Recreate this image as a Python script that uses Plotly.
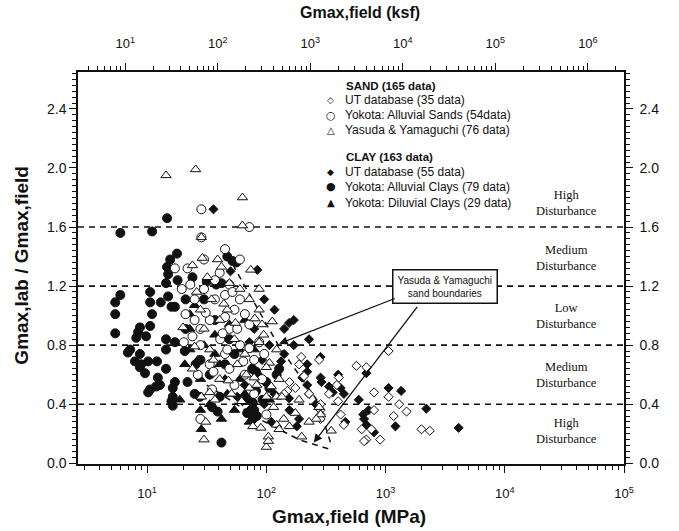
import math
import plotly.graph_objects as go

# ---- Sand specimens: Gmax,field (MPa) and Gmax,lab / Gmax,field ----
ut_sand_g = [196, 207, 156, 175, 150, 1060, 570, 690, 390, 800, 1060, 400, 285, 285, 285,
             285, 420, 1170, 630, 760, 690, 660, 2350, 141, 188, 335, 447, 800, 406, 228,
             277, 900, 1300, 1500, 2000]
ut_sand_r = [0.72, 0.59, 0.55, 0.51, 0.49, 0.76, 0.66, 0.65, 0.53, 0.48, 0.45, 0.42, 0.40, 0.36, 0.33,
             0.30, 0.33, 0.32, 0.23, 0.23, 0.16, 0.15, 0.22, 0.47, 0.67, 0.47, 0.26, 0.36, 0.58, 0.47,
             0.70, 0.16, 0.40, 0.35, 0.23]

yokota_sand_g = [28.5, 28.5, 72, 17.1, 21.8, 20.3, 28, 26.6, 28, 40.6, 100, 72, 87, 30, 37,
                 45, 54, 33.5, 49, 60, 66, 41, 25, 21, 60, 45, 33.5, 72, 28, 49,
                 79, 37, 49, 19.5, 60, 30, 45, 23, 25, 66, 79, 92, 54, 35, 96,
                 57, 45, 31, 43, 52, 36, 24, 64, 47]
yokota_sand_r = [1.72, 1.53, 1.60, 1.32, 1.32, 0.82, 0.80, 0.60, 0.30, 1.29, 0.33, 0.78, 0.82, 1.18, 1.11,
                 1.14, 1.04, 0.97, 0.91, 1.11, 1.01, 0.84, 1.11, 1.01, 0.80, 0.74, 0.67, 0.94, 0.91, 0.64,
                 0.70, 1.24, 1.21, 1.18, 1.38, 1.38, 1.45, 1.21, 0.97, 0.60, 0.47, 0.57, 0.53, 0.50, 0.74,
                 0.91, 0.99, 1.02, 0.88, 1.16, 0.62, 0.86, 0.69, 0.77]

yasuda_g = [14.4, 25.5, 63, 63, 28.5, 29, 24, 42, 32, 49, 25, 24, 28.5, 87, 112,
            95, 87, 122, 106, 100, 68, 79, 72, 83, 122, 100, 135, 175, 33.5, 37,
            285, 277, 262, 228, 77, 90, 122, 128, 156, 104, 100, 104, 198, 31, 350,
            34.6, 47, 60, 72, 54, 40.6, 30, 66, 33.5, 51, 40.6, 57, 28, 39, 87,
            74, 92, 128, 188, 30, 26, 44, 55, 36, 48, 62, 115, 140, 20, 80, 110]
yasuda_r = [1.95, 1.99, 1.80, 1.61, 1.53, 1.39, 1.34, 1.33, 1.26, 1.22, 0.79, 0.64, 0.45, 1.04, 0.96,
            0.87, 0.82, 0.77, 0.68, 0.65, 0.60, 0.58, 0.51, 0.53, 0.45, 0.45, 0.45, 0.34, 0.48, 0.43,
            0.33, 0.38, 0.30, 0.28, 0.25, 0.24, 0.26, 0.23, 0.25, 0.18, 0.11, 0.15, 0.18, 0.28, 0.22,
            1.11, 1.04, 1.18, 1.11, 0.84, 0.97, 0.91, 0.74, 0.77, 0.47, 0.57, 0.67, 1.04, 1.38, 1.18,
            1.31, 0.94, 0.57, 0.43, 0.16, 1.16, 1.08, 0.95, 0.70, 0.56, 0.42, 0.38, 0.30, 0.92, 0.98, 0.52]

# ---- Clay specimens ----
ut_clay_g = [36, 84, 155, 170, 72, 133, 285, 220, 220, 285, 220, 155, 57, 63, 690,
             290, 335, 420, 360, 1350, 460, 1210, 660, 690, 800, 4100, 96, 117, 79, 106,
             141, 92, 66, 117, 156, 188, 96, 228, 141, 170, 228, 72, 596, 447, 1060,
             722, 50, 125, 200, 260, 400, 650, 110, 180, 2200]
ut_clay_r = [1.72, 1.31, 0.95, 0.97, 0.82, 0.69, 0.72, 0.67, 0.62, 0.58, 0.53, 0.44, 0.45, 0.42, 0.61,
             0.55, 0.52, 0.51, 0.48, 0.49, 0.28, 0.25, 0.30, 0.26, 0.21, 0.24, 1.11, 1.04, 0.91, 0.80,
             0.74, 0.70, 0.53, 0.47, 0.36, 0.30, 0.40, 0.47, 0.91, 0.80, 0.84, 0.36, 0.43, 0.47, 0.51,
             0.36, 1.30, 0.62, 0.58, 0.40, 0.60, 0.33, 0.28, 0.25, 0.37]

alluvial_clay_g = [5.96, 11, 14.7, 17.8, 15.6, 14.7, 15, 24, 14.4, 5.96, 5.4, 10.6, 10.6, 18, 17.1,
                   13, 15, 5.4, 5.4, 11, 10.6, 16, 8.7, 8.4, 8.1, 9.8, 14.4, 17.1, 7.2, 6.9,
                   14.4, 20.7, 8.7, 7.9, 8.9, 9.6, 8.7, 10.2, 12.1, 14.4, 12.3, 12.8, 17.1, 16.4, 21.8,
                   25.5, 11.9, 10.6, 10.2, 16.4, 16, 16.4, 47, 52, 56, 31.6, 38, 42, 128, 76,
                   82, 122, 100, 106, 82, 93, 27.7, 40.6, 68, 77, 35, 39, 79, 83, 69,
                   77, 42, 30, 37, 49, 21, 28, 45, 33.5, 25, 21, 54]
alluvial_clay_r = [1.56, 1.57, 1.66, 1.42, 1.38, 1.33, 1.28, 1.26, 1.22, 1.14, 1.09, 1.16, 1.09, 1.24, 1.06,
                   1.09, 1.13, 1.01, 0.88, 1.01, 0.93, 1.06, 0.92, 0.89, 0.85, 0.86, 0.84, 0.82, 0.77, 0.75,
                   0.77, 0.76, 0.74, 0.69, 0.67, 0.61, 0.65, 0.69, 0.69, 0.64, 0.58, 0.53, 0.55, 0.51, 0.55,
                   0.67, 0.52, 0.50, 0.48, 0.45, 0.42, 0.39, 1.40, 1.37, 1.36, 1.23, 1.21, 1.22, 0.64, 0.64,
                   0.62, 0.60, 0.55, 0.51, 0.49, 0.43, 0.45, 0.45, 0.43, 0.41, 0.38, 0.35, 0.36, 0.32, 0.34,
                   0.30, 0.14, 1.11, 0.97, 0.84, 0.91, 0.70, 0.67, 0.60, 0.47, 1.11, 0.74]

diluvial_clay_g = [28.5, 42, 72, 277, 22.8, 30, 37, 28, 45, 33.5, 60, 49, 66, 25, 20.7,
                   26.6, 54, 47, 87, 18.8, 22.8, 37, 40.6, 106, 66, 79, 28, 22.8, 60]
diluvial_clay_r = [0.23, 0.30, 0.28, 0.38, 0.91, 0.80, 0.74, 0.57, 0.57, 0.40, 0.77, 0.94, 0.97, 1.07, 0.67,
                   0.70, 0.36, 0.47, 0.60, 0.43, 0.77, 0.87, 0.67, 0.43, 0.47, 0.77, 0.36, 1.01, 0.57]

# ---- Yasuda & Yamaguchi sand boundaries ----
upper_bound_g = [47, 128, 265, 355]
upper_bound_r = [1.41, 0.79, 0.43, 0.11]
lower_bound_g = [31.6, 87, 188, 355]
lower_bound_r = [0.53, 0.30, 0.16, 0.09]

# ---- disturbance classes ----
class_limits = [0.4, 0.8, 1.2, 1.6]
class_labels = ["High<br>Disturbance", "Medium<br>Disturbance", "Low<br>Disturbance",
                "Medium<br>Disturbance", "High<br>Disturbance"]
class_label_r = [1.76, 1.39, 1.00, 0.60, 0.22]

# ---- axis ticks ----
mpa_ticks = [10, 100, 1000, 10000, 100000]
ksf_ticks = [10, 100, 1000, 10000, 100000, 1000000]
ratio_ticks = [0.0, 0.4, 0.8, 1.2, 1.6, 2.0, 2.4]

SANS = "Liberation Sans, Arial, sans-serif"
SERIF = "Liberation Serif, Times New Roman, serif"
SYM = "DejaVu Sans, sans-serif"
INK = "#111111"


def pow_label(v):
    return "10<sup>%d</sup>" % round(math.log10(v))


def minor_log(lo, hi):
    vals = []
    for d in range(lo, hi + 1):
        for k in range(2, 10):
            vals.append(k * 10 ** d)
    return vals


fig = go.Figure()

series = [
    # name, g, r, symbol, fill, size
    ("UT database (55 data)", ut_clay_g, ut_clay_r, "diamond", INK, 7),
    ("Yokota: Alluvial Clays (79 data)", alluvial_clay_g, alluvial_clay_r, "circle", INK, 9),
    ("Yokota: Diluvial Clays (29 data)", diluvial_clay_g, diluvial_clay_r, "triangle-up", INK, 9),
    ("UT database (35 data)", ut_sand_g, ut_sand_r, "diamond", "white", 7),
    ("Yokota: Alluvial Sands (54data)", yokota_sand_g, yokota_sand_r, "circle", "white", 9),
    ("Yasuda & Yamaguchi (76 data)", yasuda_g, yasuda_r, "triangle-up", "white", 9),
]

# boundaries drawn first so markers sit over them
for bg, br in [(upper_bound_g, upper_bound_r), (lower_bound_g, lower_bound_r)]:
    fig.add_trace(go.Scatter(x=bg, y=br, mode="lines", showlegend=False, hoverinfo="skip",
                             line=dict(color=INK, width=1.5, dash="6px,5px")))

for name, g, r, sym, fill, size in series:
    fig.add_trace(go.Scatter(
        x=g, y=r, mode="markers", name=name, showlegend=False,
        marker=dict(symbol=sym, size=size, color=fill, line=dict(color=INK, width=1.0)),
    ))

# secondary axes (ksf on top, ratio repeated on the right)
fig.add_trace(go.Scatter(x=[100], y=[1.0], xaxis="x2", yaxis="y2", mode="markers",
                         marker=dict(opacity=0), showlegend=False, hoverinfo="skip"))

for lim in class_limits:
    fig.add_shape(type="line", xref="paper", x0=0, x1=1, yref="y", y0=lim, y1=lim,
                  line=dict(color=INK, width=1.6, dash="6px,5px"), layer="below")

for txt, yv in zip(class_labels, class_label_r):
    fig.add_annotation(xref="paper", x=0.894, xanchor="center", yref="y", y=yv, text=txt,
                       showarrow=False, font=dict(family=SERIF, size=12.5, color=INK), align="center")

# key, drawn as text inside the plotting area
key_blocks = [
    ("<b>SAND (165 data)</b>", 0.964, [("\u25C7", "UT database (35 data)", 0.929, 9),
                                      ("\u25CB", "Yokota: Alluvial Sands (54data)", 0.890, 11),
                                      ("\u25B3", "Yasuda & Yamaguchi (76 data)", 0.852, 10)]),
    ("<b>CLAY (163 data)</b>", 0.783, [("\u25C6", "UT database (55 data)", 0.745, 9),
                                      ("\u25CF", "Yokota: Alluvial Clays (79 data)", 0.707, 11),
                                      ("\u25B2", "Yokota: Diluvial Clays (29 data)", 0.666, 10)]),
]
for title, ty, items in key_blocks:
    fig.add_annotation(xref="paper", yref="paper", x=0.487, y=ty, xanchor="left", yanchor="middle",
                       text=title, showarrow=False, font=dict(family=SANS, size=11.5, color=INK))
    for glyph, label, iy, gsize in items:
        fig.add_annotation(xref="paper", yref="paper", x=0.463, y=iy, xanchor="center",
                           yanchor="middle", text=glyph, showarrow=False,
                           font=dict(family=SYM, size=gsize, color=INK))
        fig.add_annotation(xref="paper", yref="paper", x=0.485, y=iy, xanchor="left",
                           yanchor="middle", text=label, showarrow=False,
                           font=dict(family=SANS, size=12, color=INK))

# boundary callout
box_x, box_y = 3160, 1.20
fig.add_annotation(x=math.log10(box_x), y=box_y, xref="x", yref="y",
                   text="Yasuda & Yamaguchi<br>sand boundaries", showarrow=False,
                   font=dict(family=SANS, size=10, color=INK), bgcolor="white",
                   bordercolor=INK, borderwidth=1.5, borderpad=4, align="center")
for tip_g, tip_r, tail_g, tail_r in [(128, 0.81, 1230, 1.12), (250, 0.14, 1884, 1.07)]:
    fig.add_annotation(x=math.log10(tip_g), y=tip_r, xref="x", yref="y",
                       ax=math.log10(tail_g), ay=tail_r, axref="x", ayref="y",
                       text="", showarrow=True, arrowhead=2, arrowsize=1.3, arrowwidth=1.3,
                       arrowcolor=INK)

# axis titles
title_font = dict(family=SANS, size=19, color=INK)
fig.add_annotation(xref="paper", yref="paper", x=0.496, y=-0.135, text="<b>Gmax,field (MPa)</b>",
                   showarrow=False, font=title_font, yanchor="middle")
fig.add_annotation(xref="paper", yref="paper", x=0.516, y=1.153, text="<b>Gmax,field (ksf)</b>",
                   showarrow=False, font=dict(family=SANS, size=16, color=INK), yanchor="middle")
fig.add_annotation(xref="paper", yref="paper", x=-0.103, y=0.508, text="<b>Gmax,lab / Gmax,field</b>",
                   showarrow=False, font=title_font, textangle=-90, xanchor="center", yanchor="middle")

axis_common = dict(showgrid=False, zeroline=False, showline=True, linecolor=INK, linewidth=1.5,
                   ticks="outside", tickcolor=INK, tickwidth=1.3, ticklen=7)

fig.update_layout(
    width=679, height=531,
    margin=dict(l=78, r=55, t=72, b=67),
    paper_bgcolor="white", plot_bgcolor="white",
    font=dict(family=SANS, color=INK),
    showlegend=False,
    xaxis=dict(type="log", range=[0.42, 5.0], tickvals=mpa_ticks,
               ticktext=[pow_label(v) for v in mpa_ticks], ticklabelstandoff=10,
               tickfont=dict(family=SANS, size=13, color=INK),
               minor=dict(tickvals=minor_log(0, 4), ticks="outside", ticklen=4,
                          tickcolor=INK, tickwidth=1.1),
               **axis_common),
    xaxis2=dict(type="log", range=[0.49, 6.39], overlaying="x", side="top", anchor="y",
                tickvals=ksf_ticks, ticktext=[pow_label(v) for v in ksf_ticks], ticklabelstandoff=10,
                tickfont=dict(family=SANS, size=13, color=INK),
                minor=dict(tickvals=minor_log(0, 6), ticks="outside", ticklen=4,
                           tickcolor=INK, tickwidth=1.1),
                **axis_common),
    yaxis=dict(range=[-0.005, 2.65], tickvals=ratio_ticks,
               ticktext=["%.1f" % v for v in ratio_ticks],
               tickfont=dict(family=SANS, size=14, color=INK),
               minor=dict(dtick=0.04, tick0=0, ticks="outside", ticklen=4, tickcolor=INK, tickwidth=1),
               **axis_common),
    yaxis2=dict(range=[-0.005, 2.65], overlaying="y", side="right", anchor="x",
                tickvals=ratio_ticks, ticktext=["%.1f" % v for v in ratio_ticks],
                ticklabelstandoff=4,
                tickfont=dict(family=SANS, size=14, color=INK),
                minor=dict(dtick=0.04, tick0=0, ticks="outside", ticklen=4, tickcolor=INK, tickwidth=1),
                **axis_common),
)

fig.write_html("out.html")
